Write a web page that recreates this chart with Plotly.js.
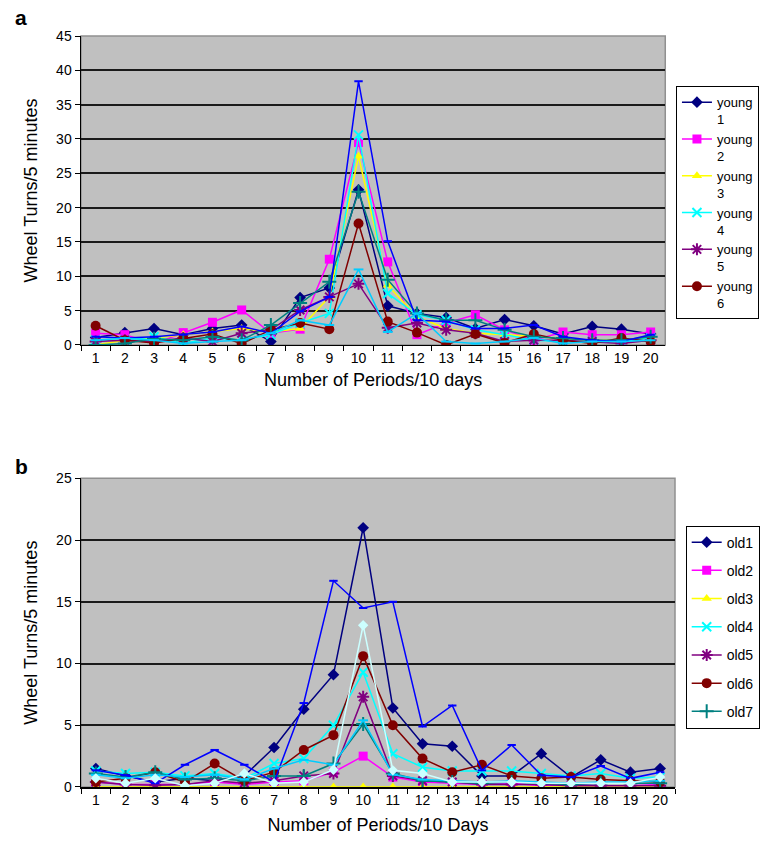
<!DOCTYPE html>
<html><head><meta charset="utf-8">
<script src="https://cdn.plot.ly/plotly-3.0.1.min.js"></script>
<style>body{margin:0;background:#fff}#c{width:772px;height:850px}</style>
</head><body><div id="c"></div>
<script>
const periods = ['1','2','3','4','5','6','7','8','9','10','11','12','13','14','15','16','17','18','19','20'];

// Panel a (young)
const young1 = [1.1,1.8,2.4,1.5,2.4,2.9,0.5,6.9,8.3,22.6,5.7,4.6,4.0,2.4,3.7,2.8,1.6,2.7,2.3,1.6];
const young2 = [1.7,1.5,0.2,1.8,3.3,5.1,1.7,2.3,12.5,29.5,12.1,1.5,3.2,4.4,2.2,0.7,1.9,1.5,1.5,1.9];
const young3 = [0.0,0.7,1.0,1.5,1.9,2.4,1.9,2.4,7.0,27.5,8.7,4.1,2.4,1.7,1.5,1.2,1.0,0.7,0.7,1.0];
const young4 = [0.7,0.7,1.2,0.2,1.0,0.7,1.5,3.2,4.6,30.6,7.5,4.4,3.6,2.2,1.5,0.7,0.5,0.5,0.5,1.0];
const young5 = [0.5,0.7,0.5,1.0,0.5,1.7,2.2,5.1,7.0,8.9,2.5,3.2,2.2,1.7,0.5,0.7,0.7,0.5,0.2,0.7];
const young6 = [2.8,0.7,0.3,1.0,1.6,0.2,2.2,3.2,2.3,17.7,3.4,1.8,0.0,1.6,0.3,1.6,0.7,0.2,1.0,0.5];
const youngS7 = [0.0,0.2,0.9,0.7,1.2,0.7,2.9,6.1,9.2,22.3,9.5,4.6,3.6,3.6,2.2,1.2,1.0,0.7,0.7,1.2];
const youngS8 = [1.2,1.0,1.2,1.5,1.9,2.7,1.7,4.9,7.0,38.4,15.1,3.6,3.4,2.4,2.4,2.9,1.2,0.7,0.5,1.5];
const youngS9 = [0.7,1.0,0.7,0.2,0.5,0.7,1.7,3.6,2.9,11.0,1.9,4.6,0.5,0.2,0.5,1.0,0.2,0.5,0.5,0.7];
const youngNames = ['young<br>1','young<br>2','young<br>3','young<br>4','young<br>5','young<br>6'];

// Panel b (old)
const old1 = [1.5,0.9,0.4,0.7,0.5,0.9,3.2,6.3,9.1,21.0,6.4,3.5,3.3,0.9,0.9,2.7,0.8,2.2,1.2,1.5];
const old2 = [0.4,0.2,0.2,0.2,0.4,0.2,0.4,0.5,1.2,2.5,0.8,0.4,0.3,0.2,0.3,0.1,0.2,0.1,0.1,0.2];
const old3 = [0,0,0,0,0,0,0,0,0,0,0,0,0,0,0,0,0,0,0,0];
const old4 = [1.3,1.1,1.2,0.9,1.1,0.7,1.9,2.3,5.0,9.3,2.7,1.6,1.3,1.3,1.3,1.1,0.9,1.1,0.7,0.8];
const old5 = [0.4,0.2,0.15,0.2,0.5,0.3,0.5,0.9,1.1,7.3,0.9,0.5,0.4,0.2,0.2,0.2,0.1,0.1,0.1,0.1];
const old6 = [0.4,0.7,1.2,0.4,1.9,0.5,1.2,3.0,4.2,10.6,5.0,2.3,1.2,1.8,0.9,0.7,0.8,0.6,0.5,0.4];
const old7 = [1.1,0.8,1.2,0.6,0.7,0.5,0.9,0.9,1.9,5.1,1.1,0.5,0.4,0.3,0.4,0.3,0.2,0.3,0.3,0.3];
const oldS8 = [1.35,0.95,0.3,1.8,3.0,1.8,0.4,6.8,16.7,14.5,15.0,4.9,6.6,1.35,3.4,0.95,0.8,1.7,0.7,1.2];
const oldS9 = [1.0,0.7,1.0,0.8,1.0,0.6,1.5,2.2,1.8,5.4,1.0,0.6,0.5,0.4,0.5,0.4,0.3,0.4,0.4,0.5];
const oldS10 = [0.7,0.3,0.7,0.1,0.3,1.1,0.3,0.4,1.4,13.1,1.35,1.1,0.4,0.4,0.4,0.3,0.3,0.3,0.3,0.8];
const oldNames = ['old1','old2','old3','old4','old5','old6','old7'];

const colors = ['#000080','#ff00ff','#ffff00','#00ffff','#800080','#800000','#008080','#0000ff','#00ccff','#ccffff'];
const symbols = ['diamond','square','triangle-up','x-thin-open','asterisk-open','circle','cross-thin-open','line-ew-open','line-ew-open','diamond'];
const sizes = [9,9,9,9,10,10,10,6,7,8];

function mk(y, i, name, xa, ya, leg, show, grp){
  const open = symbols[i].indexOf('open')>=0;
  return {x: periods, y: y, type:'scatter', mode:'lines+markers', name: name,
    xaxis: xa, yaxis: ya, legend: leg, showlegend: show, legendgroup: grp,
    line:{color: colors[i], width:1.5},
    marker:{symbol: symbols[i], size: sizes[i], color: colors[i], line:{color: colors[i], width: open?2:0}}};
}

const ya = [young1,young2,young3,young4,young5,young6,youngS7,youngS8,youngS9];
const yb = [old1,old2,old3,old4,old5,old6,old7,oldS8,oldS9,oldS10];
const traces = [];
ya.forEach((y,i)=>{ traces.push(mk(y,i,i<6?youngNames[i]:'s'+(i+1),'x','y','legend',i<6,'a'+i)); });
yb.forEach((y,i)=>{ traces.push(mk(y,i,i<7?oldNames[i]:'s'+(i+1),'x2','y2','legend2',i<7,'b'+i)); });

const FAM = 'Liberation Sans, Arial, sans-serif';
const axFont = {family:FAM, size:14, color:'#000'};
const titleFont = {family:FAM, size:18, color:'#000'};

function xax(domain, anchor, title, so){
  return {domain: domain, anchor: anchor, type:'category', tickson:'boundaries', ticks:'outside', ticklen:5,
    tickcolor:'#000', showline:true, linecolor:'#000', linewidth:1.5, showgrid:false, tickfont: axFont,
    range:[-0.5,19.5], title:{text:title, font:titleFont, standoff:so}};
}
function yax(domain, anchor, max){
  return {domain: domain, anchor: anchor, range:[0,max], dtick:5, ticks:'outside', ticklen:5, tickcolor:'#000',
    showline:true, linecolor:'#000', linewidth:1.5, showgrid:true, gridcolor:'#1a1a1a', gridwidth:2,
    zeroline:false, tickfont: axFont, title:{text:'Wheel Turns/5 minutes', font:titleFont, standoff:14}};
}

const layout = {
  width:772, height:850, paper_bgcolor:'#fff', plot_bgcolor:'#c0c0c0',
  margin:{l:81, r:81, t:36, b:63},
  font:{family:FAM, color:'#000'},
  xaxis: xax([0,0.9836],'y','Number of Periods/10 days',8),
  yaxis: yax([0.5886,1],'x',45),
  xaxis2: xax([0,1],'y2','Number of Periods/10 Days',11),
  yaxis2: yax([0,0.411],'x2',25),
  legend:{x:1.0016,xref:'paper',xanchor:'left',y:0.778,yanchor:'middle',bgcolor:'#fff',bordercolor:'#000',borderwidth:1,
    font:{family:FAM,size:13,color:'#000'},traceorder:'grouped',tracegroupgap:0,valign:'top',itemwidth:30},
  legend2:{x:1.018,xref:'paper',xanchor:'left',y:0.213,yanchor:'middle',bgcolor:'#fff',bordercolor:'#000',borderwidth:1,
    font:{family:FAM,size:14,color:'#000'},traceorder:'grouped',tracegroupgap:7,itemwidth:30},
  shapes:[
    {type:'rect',xref:'x domain',yref:'y domain',x0:0,x1:1,y0:0,y1:1,line:{color:'#909090',width:1.5},layer:'below'},
    {type:'rect',xref:'x2 domain',yref:'y2 domain',x0:0,x1:1,y0:0,y1:1,line:{color:'#909090',width:1.5},layer:'below'}
  ],
  annotations:[
    {text:'<b>a</b>',xref:'paper',yref:'paper',x:-0.115,y:1.042,xanchor:'left',yanchor:'top',showarrow:false,font:{size:21,family:FAM}},
    {text:'<b>b</b>',xref:'paper',yref:'paper',x:-0.115,y:0.445,xanchor:'left',yanchor:'top',showarrow:false,font:{size:21,family:FAM}}
  ],
  showlegend:true
};

Plotly.newPlot('c', traces, layout, {displayModeBar:false, staticPlot:true});
</script></body></html>
